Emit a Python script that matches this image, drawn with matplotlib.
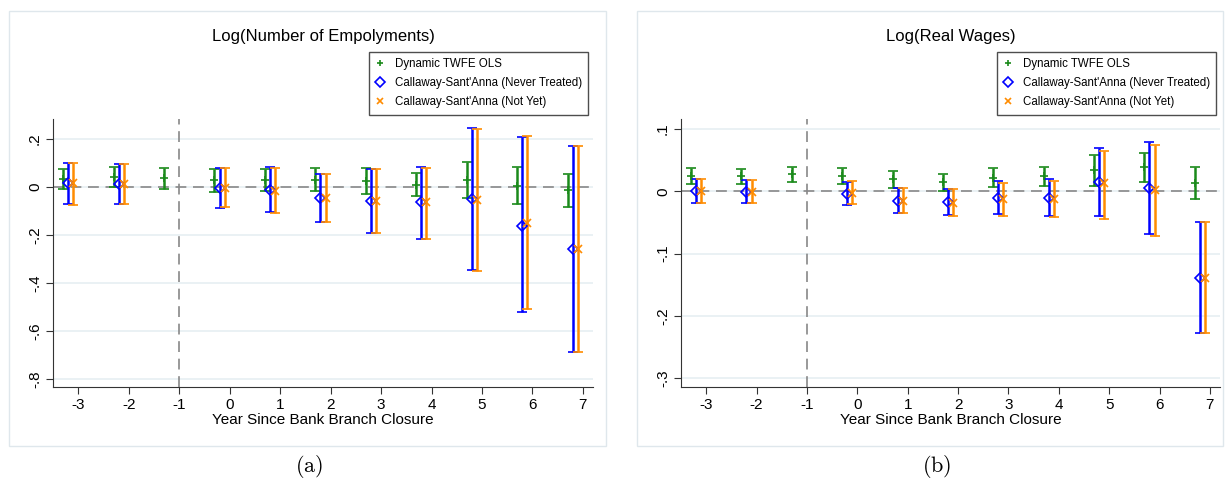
import matplotlib
matplotlib.use("Agg")
import matplotlib.pyplot as plt
import numpy as np
from matplotlib.patches import Rectangle
from matplotlib.lines import Line2D

plt.rcParams['font.family'] = ['Liberation Sans', 'DejaVu Sans']
plt.rcParams['mathtext.fontset'] = 'cm'

years = [-3, -2, -1, 0, 1, 2, 3, 4, 5, 6, 7]
years_cs = [-3, -2, 0, 1, 2, 3, 4, 5, 6, 7]

# panel (a): log number of employments
emp_twfe = [0.034, 0.042, 0.036, 0.028, 0.029, 0.029, 0.025, 0.010, 0.029, 0.006, -0.014]
emp_twfe_lo = [-0.008, 0.000, -0.010, -0.020, -0.015, -0.018, -0.029, -0.039, -0.046, -0.073, -0.083]
emp_twfe_hi = [0.075, 0.085, 0.081, 0.074, 0.074, 0.077, 0.078, 0.059, 0.102, 0.084, 0.053]
emp_nt = [0.017, 0.013, -0.004, -0.013, -0.046, -0.057, -0.064, -0.052, -0.161, -0.260]
emp_nt_lo = [-0.069, -0.069, -0.088, -0.105, -0.147, -0.190, -0.215, -0.346, -0.521, -0.689]
emp_nt_hi = [0.099, 0.094, 0.078, 0.084, 0.053, 0.076, 0.084, 0.246, 0.207, 0.169]
emp_ny = [0.017, 0.013, -0.004, -0.017, -0.046, -0.057, -0.064, -0.053, -0.150, -0.260]
emp_ny_lo = [-0.074, -0.071, -0.085, -0.110, -0.147, -0.190, -0.215, -0.350, -0.510, -0.689]
emp_ny_hi = [0.098, 0.094, 0.081, 0.080, 0.055, 0.073, 0.081, 0.241, 0.211, 0.169]

# panel (b): log real wages
wage_twfe = [0.025, 0.024, 0.027, 0.025, 0.019, 0.015, 0.022, 0.024, 0.034, 0.039, 0.013]
wage_twfe_lo = [0.012, 0.012, 0.015, 0.012, 0.005, 0.000, 0.007, 0.008, 0.009, 0.015, -0.012]
wage_twfe_hi = [0.038, 0.036, 0.039, 0.037, 0.032, 0.028, 0.037, 0.039, 0.059, 0.062, 0.039]
wage_nt = [0.000, -0.001, -0.004, -0.015, -0.017, -0.010, -0.010, 0.015, 0.006, -0.139]
wage_nt_lo = [-0.018, -0.018, -0.022, -0.035, -0.038, -0.036, -0.040, -0.039, -0.068, -0.227]
wage_nt_hi = [0.019, 0.018, 0.015, 0.005, 0.004, 0.016, 0.019, 0.070, 0.079, -0.049]
wage_ny = [0.000, -0.001, -0.003, -0.015, -0.018, -0.012, -0.013, 0.013, 0.002, -0.139]
wage_ny_lo = [-0.019, -0.019, -0.021, -0.035, -0.040, -0.039, -0.042, -0.044, -0.072, -0.227]
wage_ny_hi = [0.019, 0.018, 0.016, 0.005, 0.003, 0.014, 0.017, 0.065, 0.075, -0.049]

labels = ['Dynamic TWFE OLS', "Callaway-Sant'Anna (Never Treated)", "Callaway-Sant'Anna (Not Yet)"]
GREEN = '#1a8a1a'
BLUE = '#0000ff'
ORANGE = '#ff8c00'
W, H = 1225, 484


def ci_plot(ax, x, y, lo, hi, color, marker, offset):
    x = np.array(x) + offset
    y = np.array(y)
    err = [y - np.array(lo), np.array(hi) - y]
    ax.errorbar(x, y, yerr=err, fmt=marker, color=color, ms=5.5, mfc='none',
                mew=1.2, elinewidth=1.8, capsize=3.5, capthick=1.8, zorder=3)


def panel(rect, title, data, yticks, yticklabels, ylim, legend_anchor, caption_x, caption):
    l, r, t, b = rect
    ax = fig.add_axes([l / W, 1 - b / H, (r - l) / W, (b - t) / H])
    ax.patch.set_alpha(0)
    ax.axhline(0, color='#888888', lw=1.2, ls=(0, (6.5, 4)), zorder=1)
    ax.axvline(-1, color='#888888', lw=1.2, ls=(0, (6.5, 4)), zorder=1)
    twfe, nt, ny = data
    ci_plot(ax, years, *twfe, GREEN, '+', -0.3)
    ci_plot(ax, years_cs, *nt, BLUE, 'D', -0.2)
    ci_plot(ax, years_cs, *ny, ORANGE, 'x', -0.1)

    ax.set_xlim(-3.5, 7.2)
    ax.set_ylim(*ylim)
    ax.set_xticks(years)
    ax.set_xticklabels([str(v) for v in years], fontsize=11)
    ax.set_yticks(yticks)
    ax.set_yticklabels(yticklabels, fontsize=11, rotation=90, va='center')
    ax.grid(axis='y', color='#e6eff2', lw=1.2, zorder=0)
    ax.set_axisbelow(True)
    for s in ['top', 'right']:
        ax.spines[s].set_visible(False)
    for s in ['left', 'bottom']:
        ax.spines[s].set_color('#333333')
    ax.tick_params(length=5, color='#333333', pad=3)
    ax.set_xlabel('Year Since Bank Branch Closure', fontsize=11, labelpad=1)

    fig.text((l + r) / 2 / W, 1 - 37 / H, title, ha='center', va='center', fontsize=12)

    handles = [Line2D([], [], ls='none', marker='+', color=GREEN, ms=5, mew=1.2),
               Line2D([], [], ls='none', marker='D', color=BLUE, mfc='none', ms=5, mew=1.2),
               Line2D([], [], ls='none', marker='x', color=ORANGE, ms=5, mew=1.2)]
    leg = ax.legend(handles, labels, loc='upper right', bbox_to_anchor=legend_anchor,
                    bbox_transform=fig.transFigure, fontsize=8.3, frameon=True,
                    fancybox=False, edgecolor='#222222', handlelength=0.9,
                    handletextpad=0.8, borderpad=0.55, labelspacing=0.6,
                    borderaxespad=0)
    leg.get_frame().set_linewidth(1.0)
    fig.text(caption_x / W, 1 - 467 / H, caption, ha='center', va='center', fontsize=16)
    return ax


fig = plt.figure(figsize=(W / 100, H / 100), dpi=100)
fig.patches.append(Rectangle((9 / W, 1 - 446 / H), 597 / W, 435 / H, transform=fig.transFigure,
                             facecolor='white', edgecolor='#dfe7ec', lw=1, zorder=-5))
fig.patches.append(Rectangle((637 / W, 1 - 446 / H), 586 / W, 435 / H, transform=fig.transFigure,
                             facecolor='white', edgecolor='#dfe7ec', lw=1, zorder=-5))

panel((53, 593, 119, 387), 'Log(Number of Empolyments)',
      [(emp_twfe, emp_twfe_lo, emp_twfe_hi), (emp_nt, emp_nt_lo, emp_nt_hi), (emp_ny, emp_ny_lo, emp_ny_hi)],
      [0.2, 0, -0.2, -0.4, -0.6, -0.8], ['.2', '0', '-.2', '-.4', '-.6', '-.8'],
      (-0.833, 0.283), (588 / W, 1 - 52 / H), 309, r'$\mathrm{(a)}$')

panel((681, 1220, 119, 387), 'Log(Real Wages)',
      [(wage_twfe, wage_twfe_lo, wage_twfe_hi), (wage_nt, wage_nt_lo, wage_nt_hi), (wage_ny, wage_ny_lo, wage_ny_hi)],
      [0.1, 0, -0.1, -0.2, -0.3], ['.1', '0', '-.1', '-.2', '-.3'],
      (-0.314, 0.116), (1216 / W, 1 - 52 / H), 937, r'$\mathrm{(b)}$')

fig.savefig('out.png', dpi=100)
